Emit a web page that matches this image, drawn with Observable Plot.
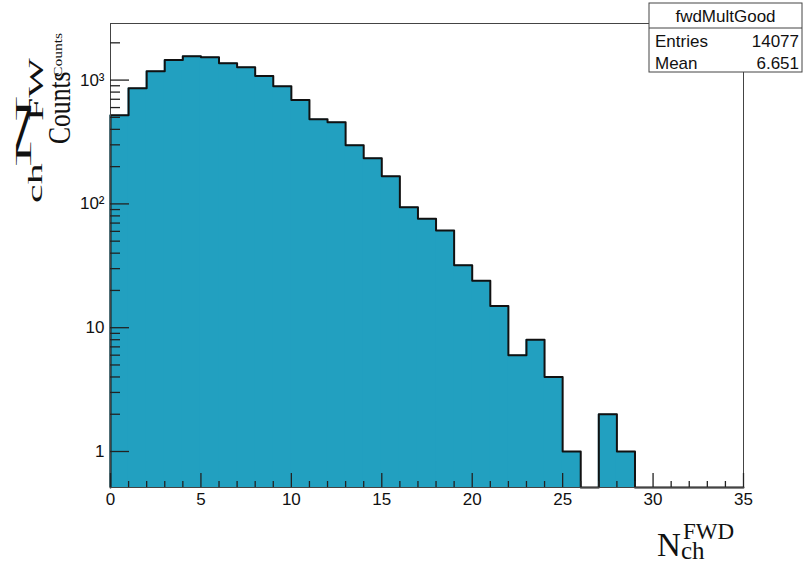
<!DOCTYPE html>
<html>
<head>
<meta charset="utf-8">
<script src="https://cdn.jsdelivr.net/npm/d3@7"></script>
<script src="https://cdn.jsdelivr.net/npm/@observablehq/plot@0.6"></script>
<style>
  html, body { margin: 0; padding: 0; background: white; }
</style>
</head>
<body>
<div id="chart"></div>
<script>
// ---- data ----
const binLow = d3.range(0, 35);          // bin lower edges, width 1
const counts = [520, 860, 1180, 1450, 1560, 1530, 1370, 1270, 1080, 890,
                690, 483, 457, 298, 234, 167, 94, 76, 61, 32,
                24, 15, 6, 8, 4, 1, 0, 2, 1, 0,
                0, 0, 0, 0, 0];
const xMajorTicks = [0, 5, 10, 15, 20, 25, 30, 35];
const xMinorTicks = d3.range(0, 36).filter(v => v % 5 !== 0);
const yMajorTicks = [1, 10, 100, 1000];
const yMajorLabels = ["1", "10", "10²", "10³"];
const yMinorTicks = [2,3,4,5,6,7,8,9, 20,30,40,50,60,70,80,90, 200,300,400,500,600,700,800,900, 2000];
const statTitle = "fwdMultGood";
const statRows = [["Entries", "14077"], ["Mean", "6.651"]];

// ---- layout ----
const W = 807, H = 563;
const mL = 110, mR = 64, mT = 23, mB = 76;
const plotW = W - mL - mR, plotH = H - mT - mB;
const yMin = 0.512, yMax = 2865;
const fillColor = "#22a0c0";

const bins = binLow.map((x, i) => ({x1: x, x2: x + 1, n: counts[i]}));
const steps = [{x: 0, y: yMin}]
  .concat(bins.map(b => ({x: b.x1, y: b.n > 0 ? b.n : yMin})))
  .concat([{x: 35, y: counts[34] > 0 ? counts[34] : yMin}]);
const yLabelTable = yMajorTicks.map((v, i) => ({v, t: yMajorLabels[i]}));

const svg = Plot.plot({
  width: W, height: H,
  marginLeft: mL, marginRight: mR, marginTop: mT, marginBottom: mB,
  style: {background: "white", fontFamily: "Liberation Sans, Arial, sans-serif", fontSize: "17px", color: "black"},
  x: {domain: [0, 35], axis: null},
  y: {type: "log", domain: [yMin, yMax], axis: null},
  marks: [
    Plot.rect(bins.filter(b => b.n > 0), {x1: "x1", x2: "x2", y1: yMin, y2: "n", fill: fillColor, insetLeft: -0.5, insetRight: -0.5}),
    Plot.line(steps, {x: "x", y: "y", curve: "step-after", stroke: "#111", strokeWidth: 2}),
    Plot.frame({stroke: "#444", strokeWidth: 1}),
    Plot.tickY(yMajorTicks, {y: d => d, insetRight: plotW - 19, stroke: "#222", strokeWidth: 1.3}),
    Plot.tickY(yMinorTicks, {y: d => d, insetRight: plotW - 10, stroke: "#222", strokeWidth: 1.3}),
    Plot.tickX(xMajorTicks, {x: d => d, insetTop: plotH - 14, stroke: "#222", strokeWidth: 1.3}),
    Plot.tickX(xMinorTicks, {x: d => d, insetTop: plotH - 6, stroke: "#222", strokeWidth: 1.3}),
    Plot.text(yLabelTable, {y: "v", text: "t", frameAnchor: "left", textAnchor: "end", dx: -6, fill: "#111", fontSize: 17}),
    Plot.text(xMajorTicks, {x: d => d, text: d => String(d), frameAnchor: "bottom", lineAnchor: "top", dy: 5, fill: "#111", fontSize: 17})
  ]
});
document.getElementById("chart").appendChild(svg);

const s = d3.select(svg);
// ---- stat box ----
const box = s.append("g").attr("font-family", "Liberation Sans, Arial, sans-serif")
  .attr("font-size", 17).attr("fill", "#111").attr("text-anchor", "start");
box.append("rect").attr("x", 649).attr("y", 3).attr("width", 153).attr("height", 69)
  .attr("fill", "white").attr("stroke", "#444").attr("stroke-width", 1);
box.append("line").attr("x1", 649).attr("x2", 802).attr("y1", 28).attr("y2", 28).attr("stroke", "#444");
box.append("text").attr("x", 725.5).attr("y", 22).attr("text-anchor", "middle").text(statTitle);
statRows.forEach((r, i) => {
  box.append("text").attr("x", 655).attr("y", 47 + i * 22).attr("text-anchor", "start").text(r[0]);
  box.append("text").attr("x", 799).attr("y", 47 + i * 22).attr("text-anchor", "end").text(r[1]);
});

// ---- x axis title ----
const xt = s.append("g").attr("font-family", "Liberation Serif, Times New Roman, serif")
  .attr("fill", "#111").attr("text-anchor", "start");
xt.append("text").attr("x", 657).attr("y", 556).attr("font-size", 33).text("N");
xt.append("text").attr("x", 681).attr("y", 559).attr("font-size", 25).text("ch");
xt.append("text").attr("x", 683).attr("y", 539).attr("font-size", 23).text("FWD");

// ---- y axis title (overlapping, as in the reference) ----
const yt = s.append("g").attr("font-family", "Liberation Serif, Times New Roman, serif")
  .attr("fill", "#111").attr("text-anchor", "start");
function rot(x, y, sx, size, txt) {
  yt.append("g").attr("transform", `translate(${x},${y})`)
    .append("g").attr("transform", "rotate(-90)")
    .append("text").attr("transform", `scale(${sx},1)`)
    .attr("text-anchor", "start").attr("font-size", size).text(txt);
}
rot(31, 168, 4.6, 22, "N");
rot(42, 203, 2.1, 20, "ch");
rot(43, 121, 2.1, 20, "FW");
rot(70, 144, 0.8, 32, "Counts");
rot(62, 77, 1.2, 13, "Counts");
</script>
</body>
</html>
